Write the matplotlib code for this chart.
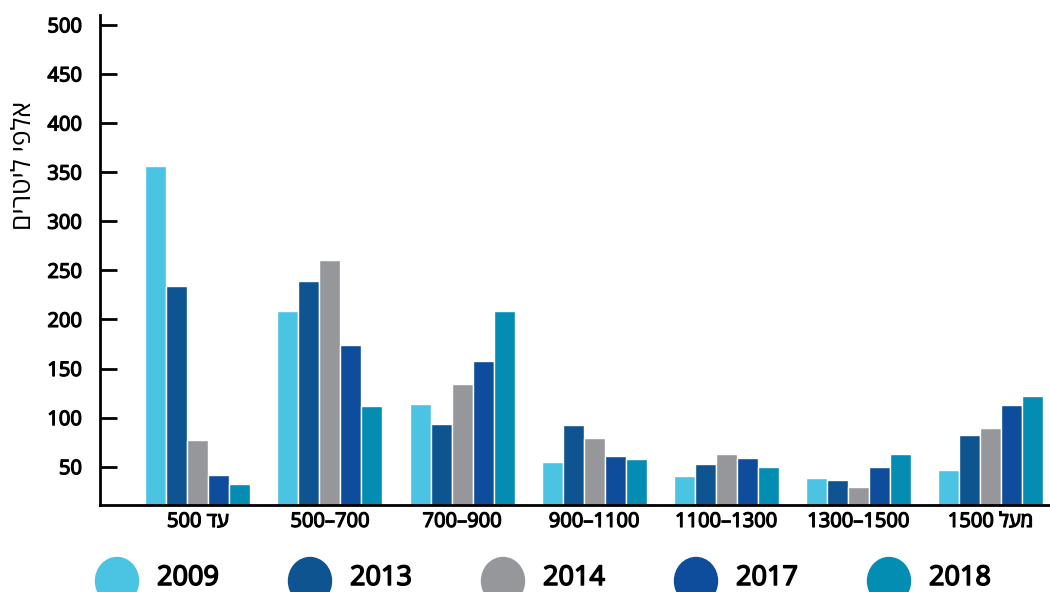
import numpy as np
import matplotlib
matplotlib.use("Agg")
import matplotlib.pyplot as plt
import matplotlib.patheffects as pe
from matplotlib.patches import Ellipse

plt.rcParams['font.family'] = ['Open Sans', 'DejaVu Sans']

# data (Hebrew typed in visual order, matplotlib has no bidi)
categories = ["500 דע", "500–700", "700–900", "900–1100", "1100–1300", "1300–1500", "1500 לעמ"]
years = ["2009", "2013", "2014", "2017", "2018"]
v2009 = [356, 209, 114, 55, 41, 38, 47]
v2013 = [234, 239, 93, 92, 53, 36, 82]
v2014 = [77, 260, 134, 79, 63, 29, 89]
v2017 = [42, 174, 158, 61, 59, 50, 113]
v2018 = [32, 112, 209, 58, 50, 63, 122]
yticks = [50, 100, 150, 200, 250, 300, 350, 400, 450, 500]
ylabel = "םירטיל יפלא"

colors = ["#4BC3E3", "#0D5490", "#96979B", "#0E4C9C", "#038DB3"]
series = [v2009, v2013, v2014, v2017, v2018]

# fake semibold: the installed Open Sans only draws at regular weight
heavy = [pe.withStroke(linewidth=0.9, foreground="black")]

fig = plt.figure(figsize=(10.5, 5.92), dpi=100)
ax = fig.add_axes([100/1050, 1 - 505/592, 950/1050, 490/592])

x = np.arange(len(categories))
w = 0.159
for i, (vals, c) in enumerate(zip(series, colors)):
    ax.bar(x + (i - 2) * w, vals, width=w, bottom=0, color=c,
           edgecolor="white", linewidth=1.0)

ax.set_ylim(11, 510)
ax.set_xlim(-0.74, 6.45)
ax.set_yticks(yticks)
ax.set_xticks(x)
ax.set_xticklabels(categories, fontsize=14.5)
ax.tick_params(axis="x", length=0, pad=5)
ax.tick_params(axis="y", direction="in", length=12, width=2, labelsize=14.5, pad=13)
for lab in ax.get_yticklabels() + ax.get_xticklabels():
    lab.set_path_effects(heavy)
for s in ["top", "right"]:
    ax.spines[s].set_visible(False)
ax.spines["left"].set_linewidth(2)
ax.spines["bottom"].set_linewidth(2)

fig.text(25/1050, 1 - 165/592, ylabel, rotation=90, fontsize=19,
         ha="center", va="center")

# legend
for i, (yr, c) in enumerate(zip(years, colors)):
    cx = 117 + i * 193
    fig.add_artist(Ellipse((cx/1050, 1 - 581/592), 43/1050, 47/592,
                           color=c, transform=fig.transFigure))
    fig.text((cx + 40)/1050, 1 - 578/592, yr, fontsize=19.5,
             ha="left", va="center",
             path_effects=[pe.withStroke(linewidth=1.1, foreground="black")])

fig.savefig("out.png", dpi=100)
